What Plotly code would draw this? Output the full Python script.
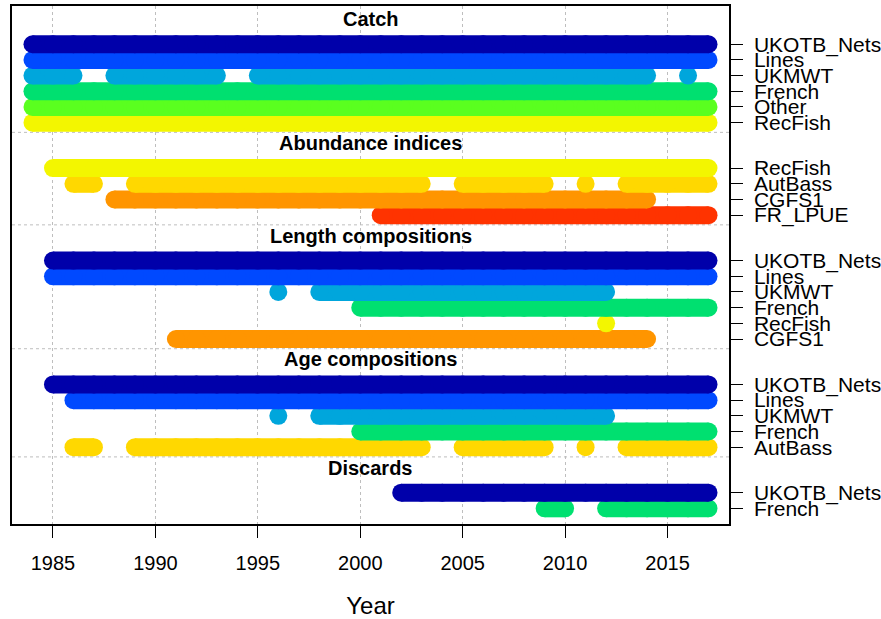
import plotly.graph_objects as go

# data availability by type; each fleet row is a list of (first year, last year) runs
catch_fleets = ["UKOTB_Nets", "Lines", "UKMWT", "French", "Other", "RecFish"]
catch_years = [
    [(1984, 2017)],
    [(1984, 2017)],
    [(1984, 1986), (1988, 1993), (1995, 2014), (2016, 2016)],
    [(1984, 2017)],
    [(1984, 2017)],
    [(1984, 2017)],
]

index_fleets = ["RecFish", "AutBass", "CGFS1", "FR_LPUE"]
index_years = [
    [(1985, 2017)],
    [(1986, 1987), (1989, 2003), (2005, 2009), (2011, 2011), (2013, 2017)],
    [(1988, 2014)],
    [(2001, 2017)],
]

length_fleets = ["UKOTB_Nets", "Lines", "UKMWT", "French", "RecFish", "CGFS1"]
length_years = [
    [(1985, 2017)],
    [(1985, 2017)],
    [(1996, 1996), (1998, 2012)],
    [(2000, 2017)],
    [(2012, 2012)],
    [(1991, 2014)],
]

age_fleets = ["UKOTB_Nets", "Lines", "UKMWT", "French", "AutBass"]
age_years = [
    [(1985, 2017)],
    [(1986, 2017)],
    [(1996, 1996), (1998, 2012)],
    [(2000, 2017)],
    [(1986, 1987), (1989, 2003), (2005, 2009), (2011, 2011), (2013, 2017)],
]

discard_fleets = ["UKOTB_Nets", "French"]
discard_years = [
    [(2002, 2017)],
    [(2009, 2010), (2012, 2017)],
]

sections = [
    ("Catch", catch_fleets, catch_years),
    ("Abundance indices", index_fleets, index_years),
    ("Length compositions", length_fleets, length_years),
    ("Age compositions", age_fleets, age_years),
    ("Discards", discard_fleets, discard_years),
]

fleet_colors = {
    "UKOTB_Nets": "#0000AA",
    "Lines": "#0049FF",
    "UKMWT": "#00A6DC",
    "French": "#00E070",
    "Other": "#5AFF1F",
    "RecFish": "#F3F600",
    "AutBass": "#FFD800",
    "CGFS1": "#FF9500",
    "FR_LPUE": "#FF3300",
}

FONT = "Liberation Sans, Arial, sans-serif"
GAP = 2.9       # rows between sections
BAR = 18        # bar thickness in px

rows = []            # (ypos, name, spans)
titles = []          # (ypos, text)
separators = []      # ypos
ypos = 0.0
for i, (title, fleets, years) in enumerate(sections):
    if i > 0:
        separators.append(ypos + 0.62)
        ypos += GAP
    titles.append((ypos - 1.6, title))
    for j, (name, spans) in enumerate(zip(fleets, years)):
        if j > 0:
            ypos += 1
        rows.append((ypos, name, spans))

fig = go.Figure()

# upper rows drawn last so they sit on top
for yv, name, spans in reversed(rows):
    xs, ys = [], []
    for a, b in spans:
        for yr in range(a, b + 1):
            xs.append(yr)
            ys.append(yv)
        xs.append(None)
        ys.append(None)
    fig.add_trace(go.Scatter(
        x=xs, y=ys, mode="lines+markers",
        line=dict(color=fleet_colors[name], width=BAR),
        marker=dict(color=fleet_colors[name], size=BAR, line=dict(width=0)),
        connectgaps=False, hoverinfo="skip", showlegend=False,
    ))

for yv, text in titles:
    fig.add_annotation(x=0.5, xref="paper", y=yv, yref="y", text="<b>%s</b>" % text,
                       showarrow=False, font=dict(size=20, color="black", family=FONT))

for yv in separators:
    fig.add_shape(type="line", xref="paper", x0=0, x1=1, yref="y", y0=yv, y1=yv,
                  line=dict(color="#BEBEBE", width=1, dash="dot"), layer="below")

fig.update_layout(
    width=881, height=619,
    margin=dict(l=12, r=152, t=6, b=95),
    plot_bgcolor="white", paper_bgcolor="white",
    showlegend=False,
    font=dict(family=FONT, size=20, color="black"),
    xaxis=dict(
        range=[1983, 2018], tickvals=[1985, 1990, 1995, 2000, 2005, 2010, 2015],
        showgrid=True, gridcolor="#BEBEBE", griddash="dot", gridwidth=1,
        zeroline=False, showline=True, linecolor="black", linewidth=1.5, mirror=True,
        ticks="outside", ticklen=12, tickcolor="black", tickwidth=1.2,
        ticklabelstandoff=8, automargin=False,
        title=dict(text="Year", standoff=33),
    ),
    yaxis=dict(
        range=[rows[-1][0] + 1.0, -2.44], side="right",
        tickvals=[r[0] for r in rows], ticktext=[r[1] for r in rows],
        tickfont=dict(size=21),
        showgrid=False, zeroline=False, showline=True, linecolor="black",
        linewidth=1.5, mirror=True,
        ticks="outside", ticklen=12, tickcolor="black", tickwidth=1.2,
        ticklabelstandoff=7, automargin=False,
    ),
)

# drop the page's default body margin so the figure sits at the window's corner
fig.write_html("out.html", config={"displayModeBar": False},
               post_script="document.body.style.margin='0';")
